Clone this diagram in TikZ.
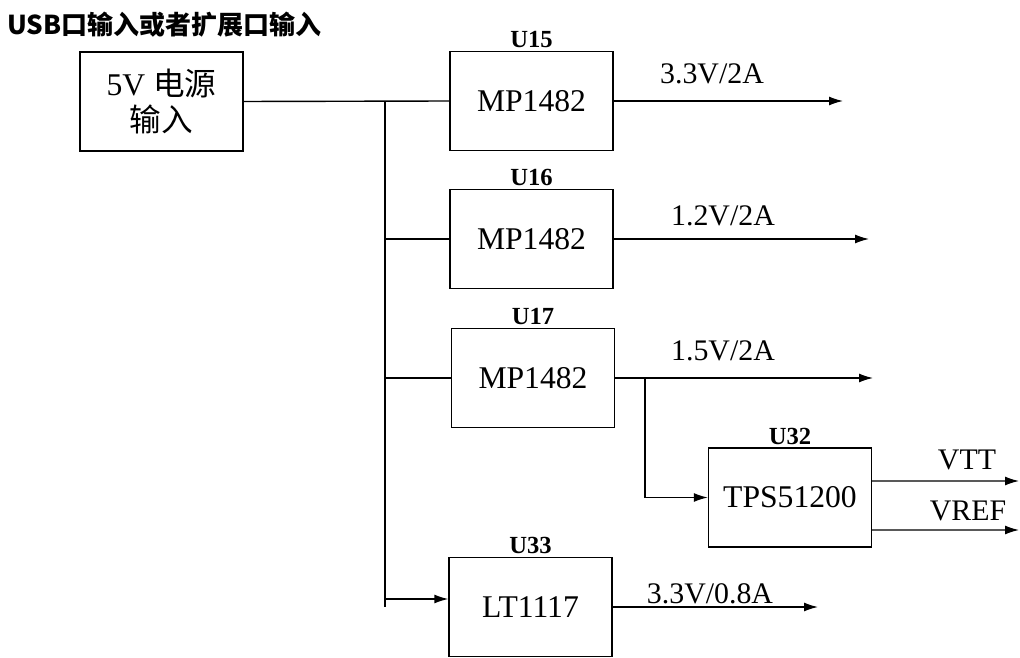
\documentclass[tikz,border=0pt]{standalone}
\usepackage{fontspec}
\setmainfont{Liberation Serif}
\newfontfamily\cjk{Noto Sans CJK SC}
\usetikzlibrary{arrows.meta}
\usetikzlibrary{positioning}

\tikzset{
  blk/.style={draw, line width=0.8pt, minimum width=3.26cm, minimum height=1.98cm,
    align=center, font=\fontsize{18}{20}\selectfont},
  tag/.style={font=\bfseries\fontsize{14}{16}\selectfont, inner sep=1.5pt},
  volt/.style={font=\fontsize{17}{19}\selectfont},
  wire/.style={line width=0.8pt},
  arr/.style={wire, -{Latex[length=2.8mm,width=1.8mm]}},
}

\begin{document}
\begin{tikzpicture}[x=0.02cm, y=-0.02cm]
  \useasboundingbox (0,0) rectangle (1020,658);

  % 标题
  \node[anchor=west, inner sep=0pt, font=\cjk\bfseries\fontsize{14.8}{16}\selectfont]
    (title) at (7,25) {USB口输入或者扩展口输入};

  % 电源与芯片
  \node[blk] (pwr) at (161.5,101.5) {5V {\cjk 电源}\\{\cjk 输入}};
  \node[blk, label={[tag]above:U15}] (u15) at (531.5,101) {MP1482};
  \node[blk, label={[tag]above:U16}] (u16) at (531.5,239) {MP1482};
  \node[blk, label={[tag]above:U17}] (u17) at (533,378) {MP1482};
  \node[blk, label={[tag]above:U32}] (tps) at (790,497.5) {TPS51200};
  \node[blk, label={[tag]above:U33}] (lt) at (530.5,607) {LT1117};

  % 母线与分支点
  \coordinate (bus) at (385,0);
  \coordinate (br) at (645,0);

  % 输出端
  \coordinate (o15) at (843,101);
  \coordinate (o16) at (869,239);
  \coordinate (o17) at (873,378);
  \coordinate (o33) at (818,607);
  \coordinate (ovtt) at (1019,481);
  \coordinate (oref) at (1019,530);

  % 输入连线
  \draw[wire] (pwr.east) -- (u15.west);
  \draw[wire] (pwr.east -| bus) -- (lt.west -| bus);
  \draw[wire] (u16.west -| bus) -- (u16.west);
  \draw[wire] (u17.west -| bus) -- (u17.west);
  \draw[arr] ([yshift=0.16cm]lt.west -| bus) -- ([yshift=0.16cm]lt.west);

  % 输出连线
  \draw[arr] (u15.east) -- (o15);
  \draw[arr] (u16.east) -- (o16);
  \draw[arr] (u17.east) -- (o17);
  \draw[arr] (u17.east -| br) |- (tps.west);
  \draw[arr] (lt.east) -- (o33);
  \draw[arr] ([yshift=0.33cm]tps.east) -- (ovtt);
  \draw[arr] ([yshift=-0.65cm]tps.east) -- (oref);

  % 电压标注
  \node[volt] (v15) at (712,74) {3.3V/2A};
  \node[volt] (v16) at (723,216) {1.2V/2A};
  \node[volt] (v17) at (723,351) {1.5V/2A};
  \node[volt] (v33) at (710,594) {3.3V/0.8A};
  \node[volt] (vtt) at (967,460) {VTT};
  \node[volt] (vref) at (968,511) {VREF};
\end{tikzpicture}
\end{document}
